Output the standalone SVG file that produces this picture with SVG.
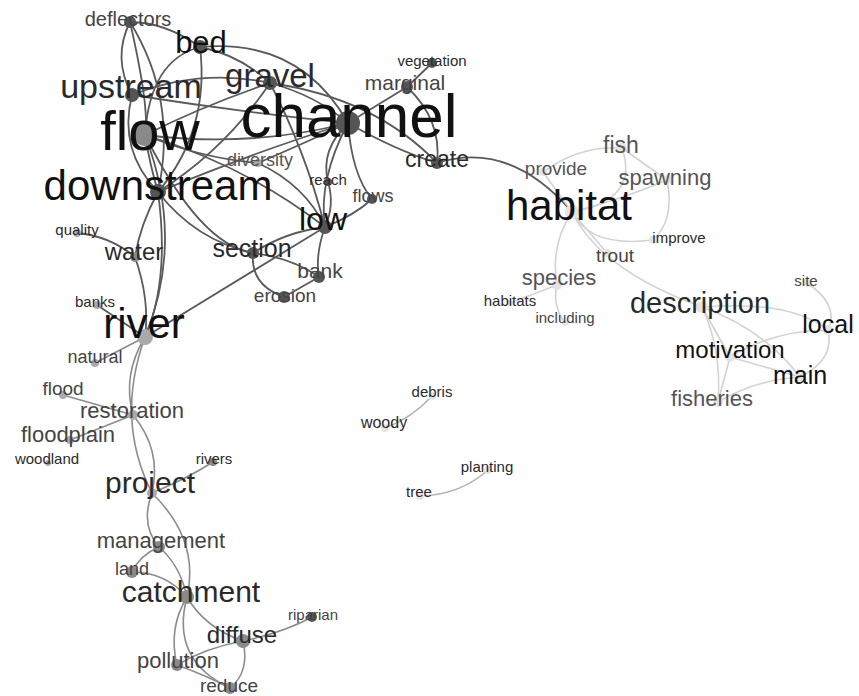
<svg xmlns="http://www.w3.org/2000/svg" width="859" height="696" viewBox="0 0 859 696">
<style>
.e1{fill:none;stroke:#5a5a5a;stroke-width:1.8}
.e2{fill:none;stroke:#8c8c8c;stroke-width:1.6}
.e3{fill:none;stroke:#d2d2d2;stroke-width:1.6}
.e4{fill:none;stroke:#b4b4b4;stroke-width:1.6}
text{font-family:"Liberation Sans",Arial,sans-serif;text-anchor:middle}
.k{fill:#111}
.m{fill:#2a2a2a}
.g{fill:#444}
.l{fill:#555}
.d1{fill:#555}
.d2{fill:#8a8a8a}
.d3{fill:#e4e4e4}
.d4{fill:#aaa}
</style>
<rect width="859" height="696" fill="#fff"/>
<g id="connectors">
<!-- top cluster -->
<path class="e1" d="M130,22 Q165,22 200,47"/>
<path class="e1" d="M130,22 Q112,58 132,95"/>
<path class="e1" d="M130,22 Q178,100 158,192"/>
<path class="e1" d="M130,22 Q150,110 145,135"/>
<path class="e1" d="M200,47 Q300,38 348,123"/>
<path class="e1" d="M200,47 Q240,55 270,83"/>
<path class="e1" d="M200,47 Q150,60 145,135"/>
<path class="e1" d="M200,47 Q210,130 158,192"/>
<path class="e1" d="M270,83 Q315,95 348,123"/>
<path class="e1" d="M270,83 Q200,68 132,95"/>
<path class="e1" d="M270,83 Q205,105 145,135"/>
<path class="e1" d="M270,83 Q225,150 158,192"/>
<path class="e1" d="M270,83 Q375,98 437,163"/>
<path class="e1" d="M270,83 Q305,150 325,227"/>
<path class="e1" d="M132,95 Q240,112 348,123"/>
<path class="e1" d="M132,95 Q118,150 158,192"/>
<path class="e1" d="M145,135 Q250,148 348,123"/>
<path class="e1" d="M145,135 Q150,165 158,192"/>
<path class="e1" d="M145,135 Q245,165 325,227"/>
<path class="e1" d="M145,135 Q200,158 258,163"/>
<path class="e1" d="M145,135 Q185,240 145,337"/>
<path class="e1" d="M145,135 Q200,245 253,253"/>
<path class="e1" d="M348,123 Q395,150 437,163"/>
<path class="e1" d="M348,123 L407,87"/>
<path class="e1" d="M348,123 Q320,150 328,182"/>
<path class="e1" d="M348,123 Q318,180 325,227"/>
<path class="e1" d="M348,123 Q352,175 372,199"/>
<path class="e1" d="M348,123 Q260,150 158,192"/>
<path class="e1" d="M348,123 Q300,145 258,163"/>
<path class="e1" d="M407,87 L432,63"/>
<path class="e1" d="M407,87 Q442,120 437,163"/>
<path class="e1" d="M437,163 Q510,140 572,212"/>
<path class="e1" d="M325,227 Q335,205 328,182"/>
<path class="e1" d="M325,227 Q355,215 372,199"/>
<path class="e1" d="M325,227 Q285,232 253,253"/>
<path class="e1" d="M325,227 Q315,255 319,277"/>
<path class="e1" d="M325,227 Q255,270 145,337"/>
<path class="e1" d="M258,163 Q305,185 325,227"/>
<path class="e1" d="M253,253 Q250,285 284,297"/>
<path class="e1" d="M253,253 Q292,258 319,277"/>
<path class="e1" d="M253,253 Q195,240 158,192"/>
<path class="e1" d="M319,277 L284,297"/>
<path class="e1" d="M158,192 Q140,225 135,257"/>
<path class="e1" d="M135,257 Q110,236 77,233"/>
<path class="e1" d="M135,257 Q150,300 145,337"/>
<path class="e1" d="M158,192 Q170,280 145,337"/>
<path class="e1" d="M145,337 L97,305"/>
<!-- left / bottom cluster -->
<path class="e2" d="M145,337 L95,363"/>
<path class="e2" d="M145,337 Q122,375 133,415"/>
<path class="e2" d="M145,337 Q115,420 152,493"/>
<path class="e2" d="M133,415 L63,395"/>
<path class="e2" d="M133,415 L70,440"/>
<path class="e2" d="M133,415 Q162,450 152,493"/>
<path class="e2" d="M152,493 Q188,478 213,462"/>
<path class="e2" d="M152,493 Q140,525 159,547"/>
<path class="e2" d="M152,493 Q200,540 187,597"/>
<path class="e2" d="M159,547 Q140,555 132,572"/>
<path class="e2" d="M159,547 Q180,565 187,597"/>
<path class="e2" d="M132,572 Q165,572 187,597"/>
<path class="e2" d="M187,597 Q205,628 243,641"/>
<path class="e2" d="M187,597 Q168,628 177,665"/>
<path class="e2" d="M187,597 Q170,660 230,688"/>
<path class="e2" d="M243,641 Q285,632 312,617"/>
<path class="e2" d="M243,641 Q205,648 177,665"/>
<path class="e2" d="M243,641 Q250,672 230,688"/>
<path class="e2" d="M177,665 Q205,675 230,688"/>
<!-- right cluster -->
<path class="e3" d="M572,212 L543,172"/>
<path class="e3" d="M543,172 Q580,145 622,148"/>
<path class="e3" d="M622,148 Q640,200 572,212"/>
<path class="e3" d="M622,148 L667,180"/>
<path class="e3" d="M667,180 Q620,200 572,212"/>
<path class="e3" d="M667,180 Q675,220 653,240"/>
<path class="e3" d="M572,212 Q590,248 653,240"/>
<path class="e3" d="M572,212 L607,253"/>
<path class="e3" d="M572,212 Q600,270 702,307"/>
<path class="e3" d="M572,212 Q550,245 557,285"/>
<path class="e3" d="M557,285 Q552,305 565,323"/>
<path class="e3" d="M557,285 L510,303"/>
<path class="e3" d="M702,307 Q790,300 828,330"/>
<path class="e3" d="M702,307 Q765,330 800,377"/>
<path class="e3" d="M702,307 L730,357"/>
<path class="e3" d="M702,307 Q722,350 718,402"/>
<path class="e3" d="M807,283 Q840,305 828,330"/>
<path class="e3" d="M828,330 Q835,360 800,377"/>
<path class="e3" d="M828,330 Q775,330 730,357"/>
<path class="e3" d="M730,357 L800,377"/>
<path class="e3" d="M730,357 L718,402"/>
<path class="e3" d="M800,377 Q755,380 718,402"/>
<!-- middle -->
<path class="e4" d="M432,396 Q412,418 385,428"/>
<path class="e4" d="M488,470 Q460,495 420,496"/>
</g>
<!-- top cluster nodes -->
<g id="n-deflectors"><circle class="d1" cx="130" cy="22" r="6"/><text class="g" x="128" y="26" font-size="20">deflectors</text></g>
<g id="n-bed"><circle class="d1" cx="200" cy="47" r="7"/><text class="k" x="201" y="53" font-size="31">bed</text></g>
<g id="n-gravel"><circle class="d1" cx="270" cy="83" r="7"/><text class="m" x="270" y="87" font-size="33">gravel</text></g>
<g id="n-upstream"><circle class="d1" cx="132" cy="95" r="7"/><text class="m" x="131" y="98" font-size="34">upstream</text></g>
<g id="n-flow"><circle class="d2" cx="145" cy="135" r="11"/><text class="k" x="150" y="150" font-size="56">flow</text></g>
<g id="n-channel"><circle class="d1" cx="348" cy="123" r="12"/><text class="k" x="349" y="137" font-size="62">channel</text></g>
<g id="n-marginal"><circle class="d1" cx="407" cy="87" r="6"/><text class="g" x="405" y="90" font-size="21">marginal</text></g>
<g id="n-vegetation"><circle class="d1" cx="432" cy="63" r="5"/><text class="m" x="432" y="66" font-size="15">vegetation</text></g>
<g id="n-create"><circle class="d1" cx="437" cy="163" r="6"/><text class="m" x="437" y="167" font-size="23">create</text></g>
<g id="n-diversity"><circle class="d4" cx="258" cy="163" r="4"/><text class="l" x="260" y="166" font-size="18">diversity</text></g>
<g id="n-downstream"><circle class="d1" cx="158" cy="192" r="8"/><text class="k" x="158" y="200" font-size="42">downstream</text></g>
<g id="n-reach"><circle class="d1" cx="328" cy="182" r="4"/><text class="m" x="328" y="185" font-size="15">reach</text></g>
<g id="n-flows"><circle class="d1" cx="372" cy="199" r="5"/><text class="g" x="373" y="202" font-size="18">flows</text></g>
<g id="n-low"><circle class="d1" cx="325" cy="227" r="7"/><text class="k" x="323" y="230" font-size="32">low</text></g>
<g id="n-quality"><circle class="d4" cx="77" cy="233" r="4"/><text class="m" x="77" y="235" font-size="15">quality</text></g>
<g id="n-water"><circle class="d2" cx="135" cy="257" r="5"/><text class="m" x="134" y="260" font-size="24">water</text></g>
<g id="n-section"><circle class="d1" cx="253" cy="253" r="6"/><text class="m" x="252" y="257" font-size="25">section</text></g>
<g id="n-bank"><circle class="d1" cx="319" cy="277" r="6"/><text class="g" x="320" y="278" font-size="21">bank</text></g>
<g id="n-erosion"><circle class="d1" cx="284" cy="297" r="6"/><text class="g" x="285" y="302" font-size="19">erosion</text></g>
<g id="n-banks"><circle class="d4" cx="97" cy="305" r="4"/><text class="m" x="95" y="307" font-size="15">banks</text></g>
<g id="n-river"><circle class="d4" cx="145" cy="337" r="8"/><text class="k" x="144" y="338" font-size="42">river</text></g>
<!-- left / bottom cluster nodes -->
<g id="n-natural"><circle class="d4" cx="95" cy="363" r="4"/><text class="g" x="95" y="363" font-size="18">natural</text></g>
<g id="n-flood"><circle class="d4" cx="63" cy="395" r="4"/><text class="g" x="63" y="395" font-size="19">flood</text></g>
<g id="n-restoration"><circle class="d4" cx="133" cy="415" r="5"/><text class="g" x="132" y="418" font-size="22">restoration</text></g>
<g id="n-floodplain"><circle class="d4" cx="70" cy="440" r="4"/><text class="g" x="68" y="442" font-size="22">floodplain</text></g>
<g id="n-woodland"><circle class="d4" cx="48" cy="463" r="3"/><text class="m" x="47" y="464" font-size="15">woodland</text></g>
<g id="n-rivers"><circle class="d2" cx="213" cy="462" r="4"/><text class="m" x="214" y="464" font-size="15">rivers</text></g>
<g id="n-project"><circle class="d4" cx="152" cy="493" r="5"/><text class="m" x="150" y="493" font-size="30">project</text></g>
<g id="n-management"><circle class="d2" cx="159" cy="547" r="6"/><text class="g" x="161" y="548" font-size="22">management</text></g>
<g id="n-land"><circle class="d2" cx="132" cy="572" r="6"/><text class="g" x="132" y="575" font-size="18">land</text></g>
<g id="n-catchment"><circle class="d2" cx="187" cy="597" r="7"/><text class="m" x="191" y="602" font-size="30">catchment</text></g>
<g id="n-riparian"><circle class="d1" cx="312" cy="617" r="5"/><text class="g" x="313" y="620" font-size="15">riparian</text></g>
<g id="n-diffuse"><circle class="d2" cx="243" cy="641" r="7"/><text class="m" x="242" y="643" font-size="24">diffuse</text></g>
<g id="n-pollution"><circle class="d2" cx="177" cy="665" r="6"/><text class="g" x="178" y="668" font-size="22">pollution</text></g>
<g id="n-reduce"><circle class="d2" cx="230" cy="688" r="6"/><text class="g" x="229" y="692" font-size="19">reduce</text></g>
<!-- middle nodes -->
<g id="n-debris"><circle class="d3" cx="432" cy="396" r="4"/><text class="m" x="432" y="397" font-size="15">debris</text></g>
<g id="n-woody"><circle class="d3" cx="385" cy="428" r="4"/><text class="m" x="384" y="428" font-size="16">woody</text></g>
<g id="n-planting"><circle class="d3" cx="488" cy="470" r="4"/><text class="m" x="487" y="472" font-size="15">planting</text></g>
<g id="n-tree"><circle class="d3" cx="420" cy="496" r="4"/><text class="m" x="419" y="497" font-size="15">tree</text></g>
<!-- right cluster nodes -->
<g id="n-fish"><circle class="d3" cx="622" cy="148" r="5"/><text class="l" x="621" y="153" font-size="23">fish</text></g>
<g id="n-provide"><circle class="d3" cx="543" cy="172" r="4"/><text class="l" x="556" y="175" font-size="19">provide</text></g>
<g id="n-spawning"><circle class="d3" cx="667" cy="180" r="5"/><text class="l" x="665" y="185" font-size="22">spawning</text></g>
<g id="n-habitat"><circle class="d3" cx="572" cy="212" r="7"/><text class="k" x="569" y="220" font-size="42">habitat</text></g>
<g id="n-improve"><circle class="d3" cx="653" cy="240" r="4"/><text class="m" x="679" y="243" font-size="15">improve</text></g>
<g id="n-trout"><circle class="d3" cx="607" cy="253" r="4"/><text class="g" x="615" y="262" font-size="19">trout</text></g>
<g id="n-species"><circle class="d3" cx="557" cy="285" r="5"/><text class="l" x="559" y="285" font-size="22">species</text></g>
<g id="n-habitats"><circle class="d3" cx="510" cy="303" r="3"/><text class="m" x="510" y="306" font-size="15">habitats</text></g>
<g id="n-including"><circle class="d3" cx="565" cy="323" r="3"/><text class="g" x="565" y="323" font-size="15">including</text></g>
<g id="n-description"><circle class="d3" cx="702" cy="307" r="6"/><text class="m" x="700" y="313" font-size="29">description</text></g>
<g id="n-site"><circle class="d3" cx="807" cy="283" r="4"/><text class="g" x="806" y="286" font-size="15">site</text></g>
<g id="n-local"><circle class="d3" cx="828" cy="330" r="5"/><text class="k" x="828" y="333" font-size="25">local</text></g>
<g id="n-motivation"><circle class="d3" cx="730" cy="357" r="5"/><text class="k" x="730" y="358" font-size="24">motivation</text></g>
<g id="n-main"><circle class="d3" cx="800" cy="377" r="5"/><text class="k" x="800" y="384" font-size="25">main</text></g>
<g id="n-fisheries"><circle class="d3" cx="718" cy="402" r="5"/><text class="l" x="712" y="406" font-size="22">fisheries</text></g>
</svg>
